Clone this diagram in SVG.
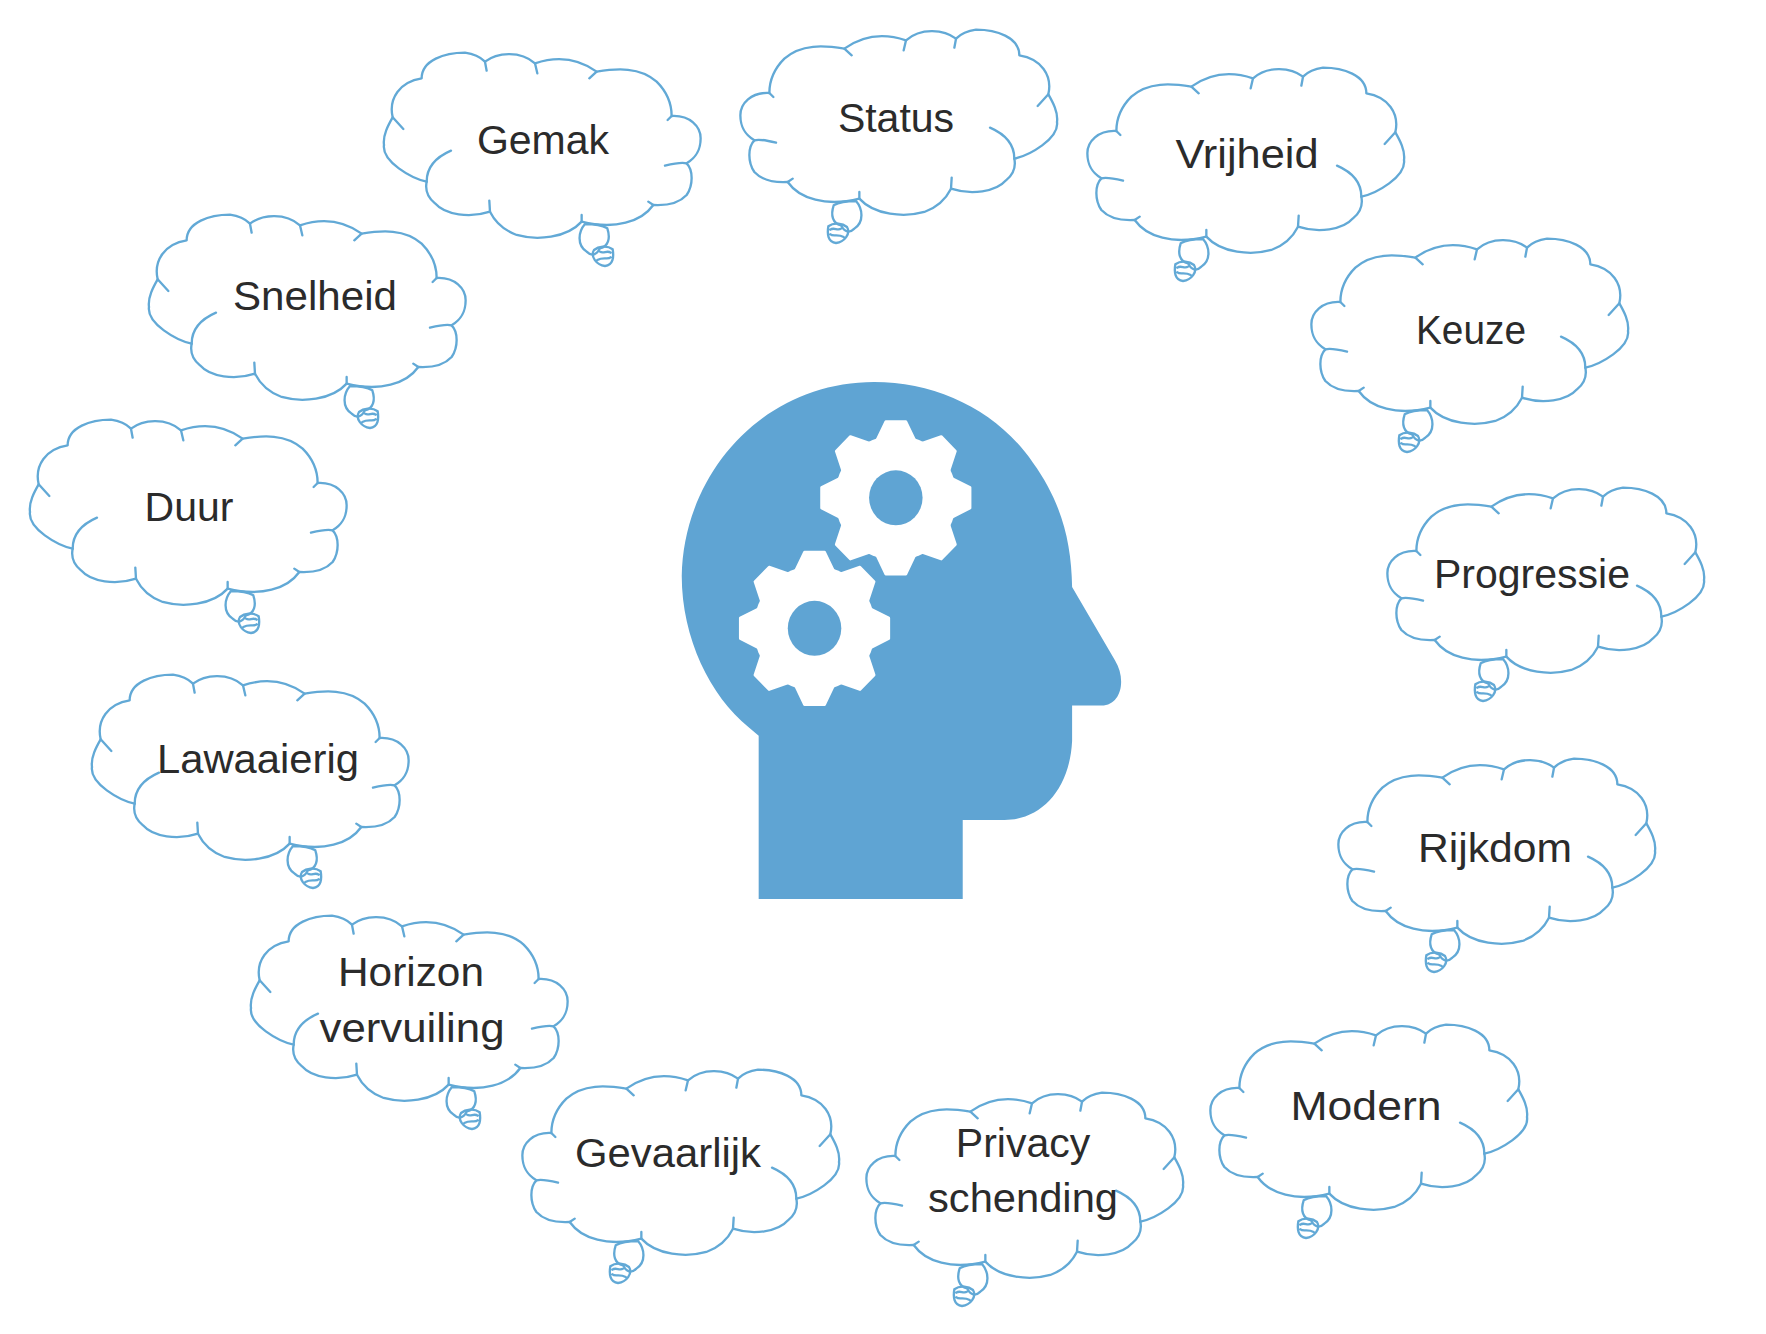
<svg xmlns="http://www.w3.org/2000/svg" xmlns:xlink="http://www.w3.org/1999/xlink" width="1766" height="1334" viewBox="0 0 1766 1334">
<style>
.line{fill:none;stroke:#62a9d6;stroke-width:7;stroke-linecap:round;stroke-linejoin:round}
.t{font-family:"Liberation Sans",Arial,sans-serif;font-size:41px;fill:#2b2b2b;text-anchor:middle}
</style>
<defs>
<g id="cloud" transform="scale(0.3333)">
<path id="outline" class="line" d="M170 455C125 445 35 395 42 345C38 315 55 285 68 262C55 205 90 155 155 145C155 90 225 68 285 68C315 72 335 85 345 95C380 68 450 60 495 100C540 85 610 75 680 125C740 115 810 110 860 155C890 185 905 220 905 258C960 255 992 290 992 325C992 365 975 385 950 400C970 420 970 465 950 495C925 522 885 527 850 525C815 575 735 600 635 575C590 625 500 632 440 615C400 600 375 575 360 545C300 565 225 555 195 520C170 500 165 480 170 455Z"/>
<path class="line" d="M68 262L100 297M170 455C170 420 190 385 243 362M345 95L350 122M495 100L502 130M680 125L658 145M905 258L893 270M950 400C935 395 905 402 885 407M850 525L835 515M635 575L635 555M360 545L358 512"/>
<path class="line" d="M645 582C625 605 620 645 650 665C665 680 680 675 690 655C715 650 722 625 712 595C690 582 665 582 645 582Z"/>
<path class="line" d="M672 660C660 680 680 705 705 708C730 705 732 680 728 658C710 645 685 650 672 660ZM682 690C700 680 715 690 722 682M690 665C700 672 712 660 722 668"/>
</g>
<g id="gear">
<circle r="182" fill="#fff"/>
<polygon id="tooth" fill="#fff" stroke="#fff" stroke-width="8" stroke-linejoin="round" points="-58,-165 -30,-222 30,-222 58,-165"/>
<use href="#tooth" transform="rotate(45)"/>
<use href="#tooth" transform="rotate(90)"/>
<use href="#tooth" transform="rotate(135)"/>
<use href="#tooth" transform="rotate(180)"/>
<use href="#tooth" transform="rotate(225)"/>
<use href="#tooth" transform="rotate(270)"/>
<use href="#tooth" transform="rotate(315)"/>
<circle r="80" fill="#5fa4d3"/>
</g>
</defs>
<rect width="1766" height="1334" fill="#fff"/>
<g id="head" transform="translate(660 370) scale(0.3345 0.3435)">
<path fill="#5fa4d3" d="M295 1540L295 1065L265 1040C150 950 65 780 65 600C70 300 310 35 640 35C830 35 1010 120 1115 270C1200 385 1230 500 1232 632L1360 845C1395 900 1380 975 1320 977L1232 977L1232 1080C1225 1220 1140 1310 1030 1310L905 1310L905 1540Z"/>
<use href="#gear" transform="translate(705 372)"/>
<use href="#gear" transform="translate(462 752)"/>
</g>
<g id="node-gemak"><use href="#cloud" transform="translate(370 30)"/><text class="t" x="543" y="154">Gemak</text></g>
<g id="node-status"><use href="#cloud" transform="translate(1071 7) scale(-1 1)"/><text class="t" x="896" y="132">Status</text></g>
<g id="node-vrijheid"><use href="#cloud" transform="translate(1418 45) scale(-1 1)"/><text class="t" x="1247" y="168" textLength="143" lengthAdjust="spacingAndGlyphs">Vrijheid</text></g>
<g id="node-keuze"><use href="#cloud" transform="translate(1642 216) scale(-1 1)"/><text class="t" x="1471" y="344" textLength="110" lengthAdjust="spacingAndGlyphs">Keuze</text></g>
<g id="node-progressie"><use href="#cloud" transform="translate(1718 465) scale(-1 1)"/><text class="t" x="1532" y="588">Progressie</text></g>
<g id="node-rijkdom"><use href="#cloud" transform="translate(1669 736) scale(-1 1)"/><text class="t" x="1495" y="862" textLength="154" lengthAdjust="spacingAndGlyphs">Rijkdom</text></g>
<g id="node-modern"><use href="#cloud" transform="translate(1541 1002) scale(-1 1)"/><text class="t" x="1366" y="1120" textLength="151" lengthAdjust="spacingAndGlyphs">Modern</text></g>
<g id="node-privacy"><use href="#cloud" transform="translate(1197 1070) scale(-1 1)"/><text class="t" x="1023" y="1157">Privacy</text><text class="t" x="1023" y="1212" textLength="190" lengthAdjust="spacingAndGlyphs">schending</text></g>
<g id="node-gevaarlijk"><use href="#cloud" transform="translate(853 1047) scale(-1 1)"/><text class="t" x="668" y="1167" textLength="186" lengthAdjust="spacingAndGlyphs">Gevaarlijk</text></g>
<g id="node-horizon"><use href="#cloud" transform="translate(237 893)"/><text class="t" x="411" y="986" textLength="146" lengthAdjust="spacingAndGlyphs">Horizon</text><text class="t" x="412" y="1042" textLength="185" lengthAdjust="spacingAndGlyphs">vervuiling</text></g>
<g id="node-lawaaierig"><use href="#cloud" transform="translate(78 652)"/><text class="t" x="258" y="773" textLength="202" lengthAdjust="spacingAndGlyphs">Lawaaierig</text></g>
<g id="node-duur"><use href="#cloud" transform="translate(16 397)"/><text class="t" x="189" y="521">Duur</text></g>
<g id="node-snelheid"><use href="#cloud" transform="translate(135 192)"/><text class="t" x="315" y="310" textLength="164" lengthAdjust="spacingAndGlyphs">Snelheid</text></g>
</svg>
